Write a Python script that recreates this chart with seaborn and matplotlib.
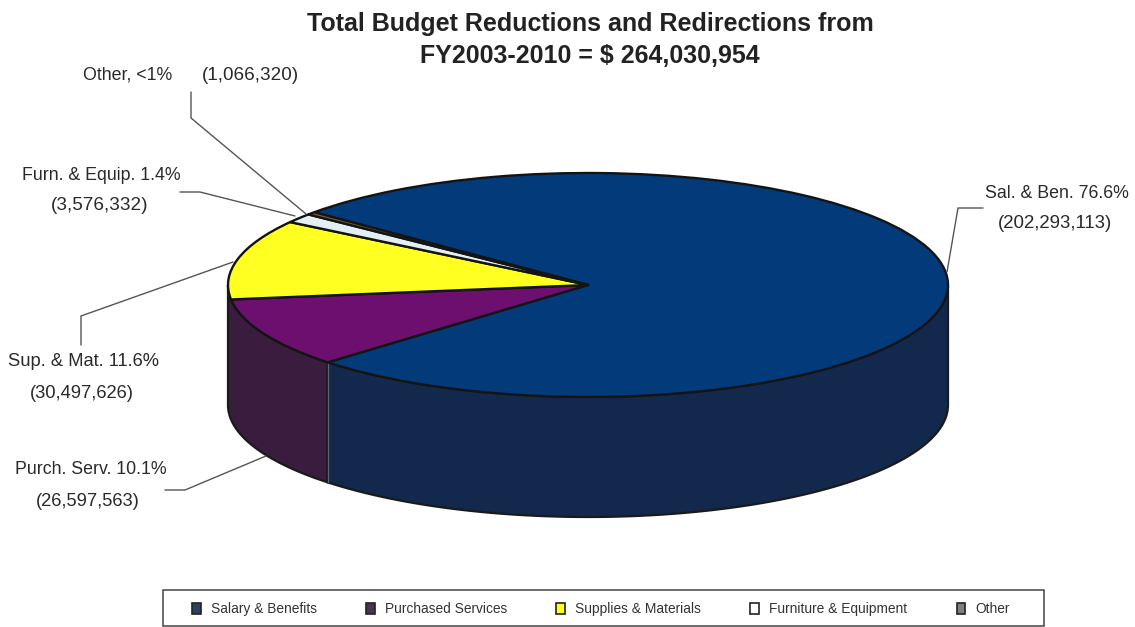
import numpy as np
import matplotlib
matplotlib.use("Agg")
import matplotlib.pyplot as plt
from matplotlib.patches import Patch, Rectangle
import seaborn as sns

categories = ["Salary & Benefits", "Purchased Services", "Supplies & Materials",
              "Furniture & Equipment", "Other"]
amounts = [202293113, 26597563, 30497626, 3576332, 1066320]
top_colors = ["#033a7a", "#6c0f6e", "#ffff22", "#e4eef5", "#7a6a3a"]
legend_colors = ["#2f3f5f", "#4a3550", "#ffff22", "#ffffff", "#7f7f7f"]
title_lines = "Total Budget Reductions and Redirections from\nFY2003-2010 = $ 264,030,954"

# label text, x centre, y centre in figure pixels, font size
label_rows = [
    ("Other, <1%", 128, 75, 12.8), ("(1,066,320)", 250, 75, 13.6),
    ("Furn. & Equip. 1.4%", 101, 175, 12.8), ("(3,576,332)", 100, 205, 13.6),
    ("Sup. & Mat. 11.6%", 84, 362, 13.2), ("(30,497,626)", 82, 394, 13.2),
    ("Purch. Serv. 10.1%", 91, 470, 12.8), ("(26,597,563)", 88, 502, 13.2),
    ("Sal. & Ben. 76.6%", 1057, 193, 12.8), ("(202,293,113)", 1055, 223, 13.4),
]
leader_paths = [
    [(191, 92), (191, 118), (306, 214)],
    [(180, 192), (200, 192), (295, 216)],
    [(81, 345), (81, 316), (233, 262)],
    [(165, 490), (185, 490), (266, 456)],
    [(947, 272), (958, 208), (983, 208)],
]

W, H = 1135, 627
CX, CY, RX, RY, DEPTH = 588, 285, 360, 112, 120
START_ANGLE = 139.5

sns.set_theme(style="white")
plt.rcParams["font.family"] = ["Liberation Sans", "DejaVu Sans"]
palette = sns.color_palette(top_colors)

fig = plt.figure(figsize=(W / 100, H / 100), dpi=100, facecolor="white")
ax = fig.add_axes([0, 0, 1, 1])
ax.pie(amounts, colors=palette, startangle=START_ANGLE, counterclock=False, radius=1,
       wedgeprops=dict(edgecolor="#141414", linewidth=1.7, joinstyle="round"))
ax.set_aspect("auto")
ax.set_xlim(-CX / RX, (W - CX) / RX)
ax.set_ylim((CY - H) / RY, CY / RY)
ax.axis("off")

# side wall of the disc: only the front half faces the viewer
drop = DEPTH / RY
shares = np.array(amounts) / sum(amounts)
salary_end = START_ANGLE - 360 * shares[0] + 360


def wall(a0, a1, color):
    t = np.radians(np.linspace(a0, a1, 200))
    x, y = np.cos(t), np.sin(t)
    ax.fill(np.r_[x, x[::-1]], np.r_[y, y[::-1] - drop], facecolor=color,
            edgecolor="#1a1a1a", linewidth=1.6, zorder=0.5)


wall(180, salary_end, "#3a1c3e")
wall(salary_end, 360, "#12294d")
seam = np.radians(salary_end)
ax.plot([np.cos(seam)] * 2, [np.sin(seam), np.sin(seam) - drop], color="#5c6675", lw=0.9, zorder=0.6)

# pixel-space overlay for title, labels, leaders and legend box
ov = fig.add_axes([0, 0, 1, 1], facecolor="none")
ov.set_xlim(0, W)
ov.set_ylim(H, 0)
ov.axis("off")

ov.text(590, 40, title_lines, ha="center", va="center", fontsize=18, fontweight="bold",
        color="#222222", linespacing=1.42)

for text, x, y, size in label_rows:
    ov.text(x, y, text, ha="center", va="center", fontsize=size, color="#2a2a2a")
for path in leader_paths:
    xs, ys = zip(*path)
    ov.plot(xs, ys, color="#555555", lw=1.0)

ov.add_patch(Rectangle((163, 590), 881, 36, facecolor="white", edgecolor="#444444", linewidth=1.1))

handles = [Patch(facecolor=c, edgecolor="#222222", linewidth=1.2) for c in legend_colors]
leg = ov.legend(handles, categories, ncol=5, loc="center left",
                bbox_to_anchor=(192 / W, 1 - 609 / H), bbox_transform=fig.transFigure,
                frameon=False, fontsize=9.9, handlelength=0.65, handleheight=0.9,
                handletextpad=0.7, columnspacing=3.6, borderpad=0, borderaxespad=0,
                labelcolor="#333333")

fig.savefig("out.png", dpi=100, facecolor="white")
